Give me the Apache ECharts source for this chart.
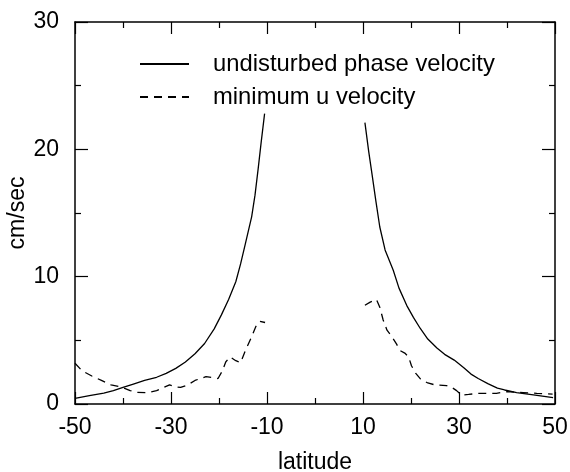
<!DOCTYPE html>
<html>
<head>
<meta charset="utf-8">
<script src="https://cdn.jsdelivr.net/npm/echarts@6/dist/echarts.min.js"></script>
<style>html,body{margin:0;padding:0;background:#fff;}#c{width:570px;height:472px;}</style>
</head>
<body>
<div id="c"></div>
<script>
// ---- data ----
const solidLeftLat = [-50, -47, -44, -42, -40, -38, -35.5, -33, -31, -29, -27, -25, -23, -21, -19.5, -18, -16.5, -15.5, -14.5, -13.2, -12.5, -11.8, -11.2, -10.5];
const solidLeftVal = [0.45, 0.65, 0.85, 1.05, 1.3, 1.55, 1.85, 2.1, 2.4, 2.8, 3.3, 3.95, 4.75, 5.9, 7.0, 8.2, 9.6, 11.0, 12.6, 14.7, 16.4, 18.6, 20.6, 22.8];
const solidRightLat = [10.4, 11.2, 11.9, 12.7, 13.5, 14.6, 16.3, 17.5, 19.1, 20.5, 21.9, 23.5, 25.4, 27, 29, 31, 32.5, 34, 36, 38, 39.5, 42, 45.5, 49.6];
const solidRightVal = [22.1, 19.8, 18.0, 15.9, 13.9, 12.1, 10.5, 9.1, 7.75, 6.8, 5.95, 5.1, 4.4, 3.9, 3.45, 2.85, 2.35, 2.0, 1.6, 1.25, 1.1, 0.9, 0.72, 0.5];
const dashLeftLat = [-50, -48.5, -46.5, -44.5, -42.5, -40.5, -38.5, -37, -35, -33, -31.5, -30.3, -29, -28, -26.5, -25, -22.7, -21, -20.2, -19.3, -18.6, -17.7, -16.5, -15.5, -14.5, -13.3, -12.3, -11.5, -10.4];
const dashLeftVal = [3.2, 2.6, 2.2, 1.85, 1.5, 1.35, 1.05, 0.92, 0.88, 1.05, 1.3, 1.5, 1.35, 1.3, 1.5, 1.85, 2.15, 2.05, 2.0, 2.6, 3.3, 3.7, 3.4, 3.25, 4.2, 5.2, 6.1, 6.5, 6.4];
const dashRightLat = [10.4, 11.5, 12.8, 13.5, 14.2, 15, 16, 17, 17.7, 18.7, 19.5, 20.1, 21, 22, 23.5, 25, 27.4, 28.5, 29.5, 30.5, 32, 34, 37.8, 40, 43.4, 46.2, 49.5];
const dashRightVal = [7.75, 8.0, 8.2, 7.6, 6.6, 5.8, 5.3, 4.7, 4.2, 4.0, 3.7, 3.0, 2.4, 1.95, 1.65, 1.5, 1.45, 1.3, 1.05, 0.7, 0.75, 0.84, 0.84, 0.97, 0.9, 0.84, 0.78];
const seriesNames = ['undisturbed phase velocity', 'minimum u velocity'];
const xMin = -50, xMax = 50, xStep = 20;
const yMin = 0, yMax = 30, yStep = 10;

function pairs(xs, ys) { return xs.map((x, i) => [x, ys[i]]); }
const solidData = pairs(solidLeftLat, solidLeftVal).concat([[0, null]], pairs(solidRightLat, solidRightVal));
const dashData = pairs(dashLeftLat, dashLeftVal).concat([[0, null]], pairs(dashRightLat, dashRightVal));

const FONT = 'Liberation Sans, Arial, Helvetica, sans-serif';
function axisBase(tickLen) {
  return {
    type: 'value',
    axisLine: { show: true, onZero: false, lineStyle: { color: '#000', width: 1.5 } },
    axisTick: { show: true, inside: true, length: tickLen, lineStyle: { color: '#000', width: 1.2 } },
    minorTick: { show: true, splitNumber: 2, length: 6, lineStyle: { color: '#000', width: 1.2 } },
    splitLine: { show: false },
    minorSplitLine: { show: false }
  };
}

const chart = echarts.init(document.getElementById('c'), null, { renderer: 'canvas' });
chart.setOption({
  backgroundColor: '#fff',
  animation: false,
  grid: { left: 75, right: 15, top: 22, bottom: 68, containLabel: false, outerBoundsMode: 'none' },
  legend: {
    orient: 'vertical',
    left: 134,
    top: 47,
    itemWidth: 49,
    itemHeight: 14,
    itemGap: 9,
    data: seriesNames,
    itemStyle: { opacity: 0 },
    textStyle: { fontFamily: FONT, fontSize: 23.8, color: '#000', lineHeight: 22, padding: [0, 0, 0, 19] }
  },
  xAxis: [
    Object.assign(axisBase(12), {
      min: xMin, max: xMax, interval: xStep, position: 'bottom',
      name: 'latitude', nameLocation: 'middle', nameGap: 47, nameMoveOverlap: false,
      nameTextStyle: { fontFamily: FONT, fontSize: 23, color: '#000' },
      axisLabel: { fontFamily: FONT, fontSize: 23, color: '#000', margin: 12 }
    }),
    Object.assign(axisBase(12), {
      min: xMin, max: xMax, interval: xStep, position: 'top',
      axisLabel: { show: false }
    })
  ],
  yAxis: [
    Object.assign(axisBase(13), {
      min: yMin, max: yMax, interval: yStep, position: 'left',
      name: 'cm/sec', nameLocation: 'middle', nameGap: 46, nameRotate: 90, nameMoveOverlap: false,
      nameTextStyle: { fontFamily: FONT, fontSize: 23, color: '#000' },
      axisLabel: { fontFamily: FONT, fontSize: 23, color: '#000', margin: 16 }
    }),
    Object.assign(axisBase(13), {
      min: yMin, max: yMax, interval: yStep, position: 'right',
      axisLabel: { show: false }
    })
  ],
  series: [
    {
      name: seriesNames[0], type: 'line', data: solidData, xAxisIndex: 0, yAxisIndex: 0,
      showSymbol: false, symbol: 'none', connectNulls: false, smooth: false,
      lineStyle: { color: '#000', width: 1.3, type: 'solid' }, itemStyle: { color: '#000' }
    },
    {
      name: seriesNames[1], type: 'line', data: dashData, xAxisIndex: 0, yAxisIndex: 0,
      showSymbol: false, symbol: 'none', connectNulls: false, smooth: false,
      lineStyle: { color: '#000', width: 1.3, type: [8, 6] }, itemStyle: { color: '#000' }
    }
  ]
});
</script>
</body>
</html>
